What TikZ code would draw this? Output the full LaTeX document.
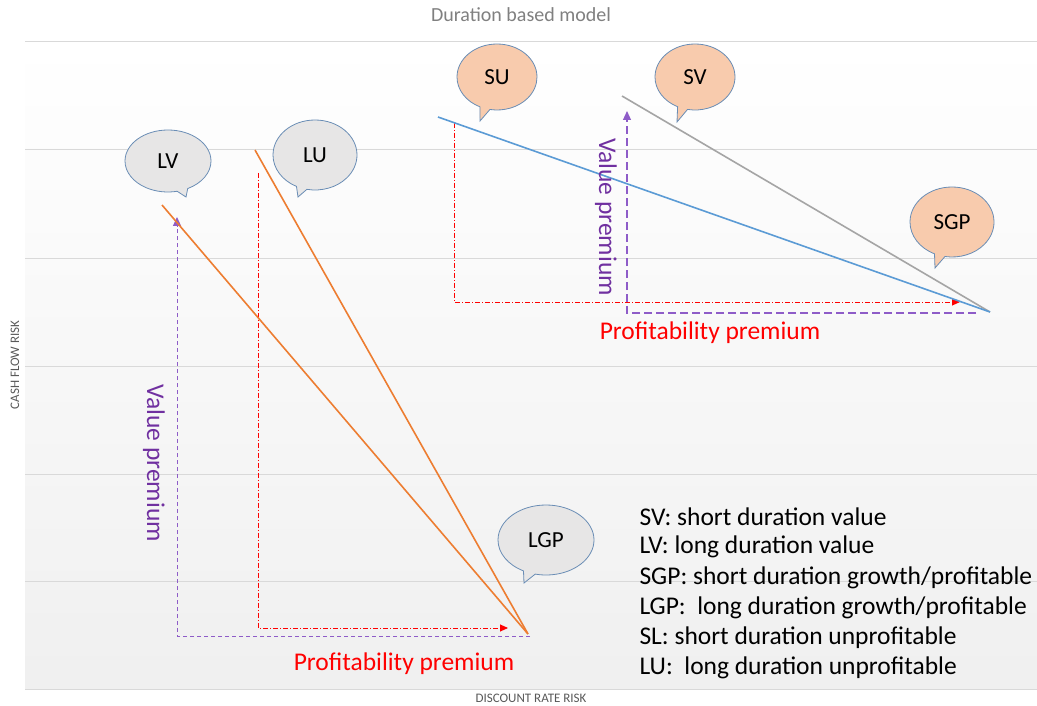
\documentclass[tikz,border=0pt]{standalone}
\usepackage{fontspec}
\setmainfont{Carlito}
\usetikzlibrary{shapes.callouts,arrows.meta}
\definecolor{peach}{HTML}{F8CBAD}
\definecolor{bubgray}{HTML}{E7E6E6}
\definecolor{bubedge}{HTML}{6A8DB5}
\definecolor{vpurple}{HTML}{7030A0}
\definecolor{ppurple}{HTML}{8E5CC8}
\definecolor{lorange}{HTML}{ED7D31}
\definecolor{lblue}{HTML}{5B9BD5}
\definecolor{lgray}{HTML}{A5A5A5}
\definecolor{gridc}{HTML}{D9D9D9}
\definecolor{axtext}{HTML}{595959}
\definecolor{titlec}{HTML}{808080}
\tikzset{
  fs/.style={font=\fontsize{#1}{#1}\selectfont},
  bubble/.style={ellipse callout, draw=bubedge, line width=0.8pt, fs=23, text=black, inner sep=0pt},
  peachbub/.style={bubble, fill=peach},
  graybub/.style={bubble, fill=bubgray},
  riskline/.style={line width=1.6pt},
  reddd/.style={red, line width=0.9pt, dash pattern=on 5pt off 2pt on 1pt off 2pt, -{Triangle[width=7pt,length=8pt]}},
  purpdash/.style={ppurple, line width=1pt, dash pattern=on 4pt off 3pt, -{Triangle[width=8pt,length=9pt]}},
  purpdashlong/.style={ppurple, line width=1.2pt, dash pattern=on 8pt off 4pt, -{Triangle[width=8pt,length=9pt]}},
  premlabel/.style={fs=25.5},
  legend/.style={fs=25.5, anchor=west, text=black},
}
\begin{document}
\begin{tikzpicture}[x=1pt,y=-1pt]
\useasboundingbox (0,0) rectangle (1037,706);
\fill[white] (0,0) rectangle (1037,706);
\shade[top color=white, bottom color=black!6] (25,42) rectangle (1037,689);
\foreach \yy in {42,150,258,366,474,581,689} \draw[gridc, line width=1pt] (25,\yy) -- (1037,\yy);

\node[fs=20, text=titlec] (title) at (521,15) {Duration based model};
\node[fs=13, text=axtext, rotate=90] (ylab) at (15,365) {CASH FLOW RISK};
\node[fs=13, text=axtext] (xlab) at (531,698) {DISCOUNT RATE RISK};

% end points
\coordinate (lvtop) at (162,205);
\coordinate (lutop) at (255,150);
\coordinate (lgp) at (528,634);
\coordinate (sutop) at (438,117);
\coordinate (svtop) at (622,96);
\coordinate (sgp) at (990,312);

% left dashed helpers
\coordinate (lp0) at (530,636);
\coordinate (lp1) at (177,636);
\coordinate (lp2) at (177,217);
\coordinate (lr0) at (258,173);
\coordinate (lr1) at (258,628);
\coordinate (lr2) at (508,628);
\draw[purpdash] (lp0) -- (lp1) -- (lp2);
\draw[reddd] (lr0) -- (lr1) -- (lr2);

% right dashed helpers
\coordinate (rp0) at (976,313);
\coordinate (rp1) at (627,313);
\coordinate (rp2) at (627,111);
\coordinate (rr0) at (454,123);
\coordinate (rr1) at (454,302);
\coordinate (rr2) at (960,302);
\draw[purpdashlong] (rp0) -- (rp1) -- (rp2);
\draw[reddd] (rr0) -- (rr1) -- (rr2);

% lines
\draw[riskline, lorange] (lvtop) -- (lgp);
\draw[riskline, lorange] (lutop) -- (lgp);
\draw[riskline, lgray] (svtop) -- (sgp);
\draw[riskline, lblue] (sutop) -- (sgp);

% bubbles
\node[peachbub, minimum width=80pt, minimum height=66pt, callout absolute pointer={(480,121)}] (su) at (497,77) {SU};
\node[peachbub, minimum width=80pt, minimum height=66pt, callout absolute pointer={(677,122)}] (sv) at (695,77) {SV};
\node[peachbub, minimum width=84pt, minimum height=70pt, callout absolute pointer={(935,268)}] (sgpb) at (952,222) {SGP};
\node[graybub, minimum width=86pt, minimum height=62pt, callout absolute pointer={(186,197)}] (lv) at (168,161) {LV};
\node[graybub, minimum width=84pt, minimum height=70pt, callout absolute pointer={(298,197)}] (lu) at (315,155) {LU};
\node[graybub, minimum width=96pt, minimum height=70pt, callout absolute pointer={(524,583)}] (lgpb) at (546,540) {LGP};

% premium labels
\node[premlabel, text=vpurple, rotate=-90] (vp1) at (154,463) {Value premium};
\node[premlabel, text=vpurple, rotate=-90] (vp2) at (606,217) {Value premium};
\node[premlabel, text=red] (pp1) at (404,664) {Profitability premium};
\node[premlabel, text=red] (pp2) at (710,333) {Profitability premium};

% legend
\node[legend] (l1) at (636,517) {SV: short duration value};
\node[legend] (l2) at (636,547) {LV: long duration value};
\node[legend] (l3) at (636,578) {SGP: short duration growth/profitable};
\node[legend] (l4) at (636,608) {LGP: \ long duration growth/profitable};
\node[legend] (l5) at (636,638) {SL: short duration unprofitable};
\node[legend] (l6) at (636,668) {LU: \ long duration unprofitable};
\end{tikzpicture}
\end{document}
